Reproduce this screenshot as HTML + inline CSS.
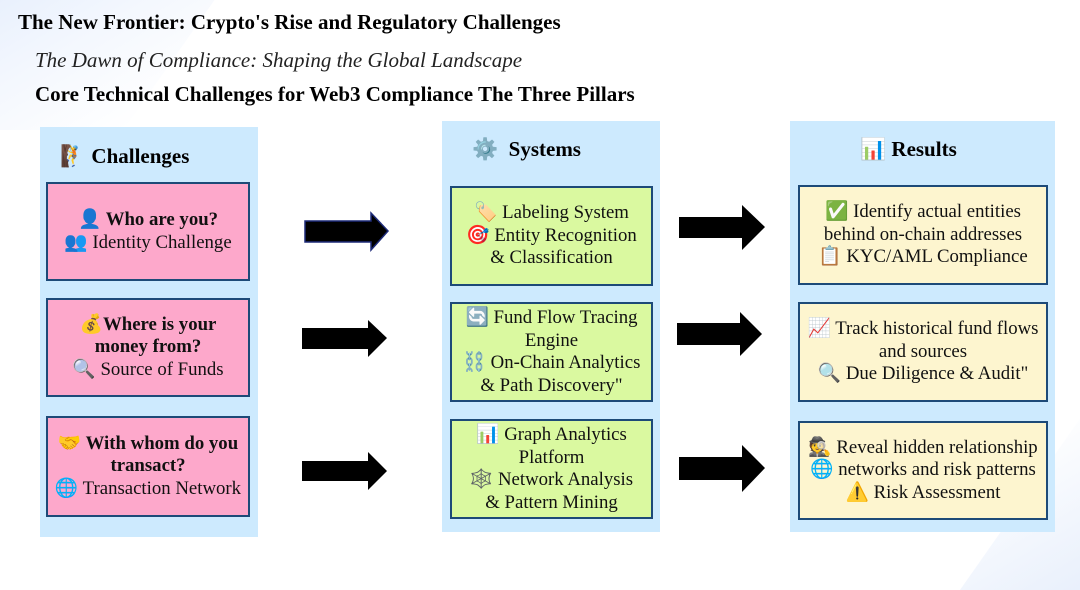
<!DOCTYPE html>
<html><head><meta charset="utf-8"><style>
body{margin:0;width:1080px;height:541px;position:relative;overflow:hidden;background:#fff;font-family:"Liberation Serif","Noto Sans CJK SC",serif;}
.bg1{position:absolute;left:-140px;top:-60px;width:330px;height:190px;background:linear-gradient(135deg,#dce8fb,#f3f7fe 60%,rgba(255,255,255,0));transform:skewX(-35deg);}
.bg2{position:absolute;left:1030px;top:390px;width:200px;height:200px;background:linear-gradient(135deg,rgba(255,255,255,0),#e3ecfb);transform:skewX(-35deg);}
.t{position:absolute;white-space:nowrap;color:#000}
.panel{position:absolute;background:#cdeafe}
.box{position:absolute;border:2px solid #1d4a78;box-sizing:border-box;display:flex;align-items:center;justify-content:center;text-align:center;font-size:18.8px;line-height:22.5px;color:#111;white-space:nowrap}
.pink{background:#fda8cb}.green{background:#daf9a0}.yellow{background:#fdf5cf}
.h{position:absolute;font-weight:bold;font-size:21px;white-space:nowrap}
svg{position:absolute}
</style></head><body>
<div class="bg1"></div><div class="bg2"></div>
<div class="t" style="left:18px;top:10px;font-size:21px;font-weight:bold">The New Frontier: Crypto's Rise and Regulatory Challenges</div>
<div class="t" style="left:35px;top:48px;font-size:21px;font-style:italic;color:#222">The Dawn of Compliance: Shaping the Global Landscape</div>
<div class="t" style="left:35px;top:82px;font-size:21px;font-weight:bold">Core Technical Challenges for Web3 Compliance The Three Pillars</div>

<div class="panel" style="left:40px;top:127px;width:218px;height:410px"></div>
<div class="h" style="left:60px;top:144px">🧗 Challenges</div>
<div class="box pink" style="left:46px;top:182px;width:204px;height:99px"><div><b>👤 Who are you?</b><br>👥 Identity Challenge</div></div>
<div class="box pink" style="left:46px;top:298px;width:204px;height:99px"><div><b>💰Where is your<br>money from?</b><br>🔍 Source of Funds</div></div>
<div class="box pink" style="left:46px;top:416px;width:204px;height:101px"><div><b>🤝 With whom do you<br>transact?</b><br>🌐 Transaction Network</div></div>

<div class="panel" style="left:442px;top:121px;width:218px;height:411px"></div>
<div class="h" style="left:472px;top:137px">⚙️&nbsp; Systems</div>
<div class="box green" style="left:450px;top:186px;width:203px;height:100px"><div>🏷️ Labeling System<br>🎯 Entity Recognition<br>&amp; Classification</div></div>
<div class="box green" style="left:450px;top:302px;width:203px;height:100px"><div>🔄 Fund Flow Tracing<br>Engine<br>⛓️ On-Chain Analytics<br>&amp; Path Discovery"</div></div>
<div class="box green" style="left:450px;top:419px;width:203px;height:100px"><div>📊 Graph Analytics<br>Platform<br>🕸️ Network Analysis<br>&amp; Pattern Mining</div></div>

<div class="panel" style="left:790px;top:121px;width:265px;height:411px"></div>
<div class="h" style="left:860px;top:137px">📊 Results</div>
<div class="box yellow" style="left:798px;top:185px;width:250px;height:100px"><div>✅ Identify actual entities<br>behind on-chain addresses<br>📋 KYC/AML Compliance</div></div>
<div class="box yellow" style="left:798px;top:302px;width:250px;height:100px"><div>📈 Track historical fund flows<br>and sources<br>🔍 Due Diligence &amp; Audit"</div></div>
<div class="box yellow" style="left:798px;top:421px;width:250px;height:99px"><div>🕵️ Reveal hidden relationship<br>🌐 networks and risk patterns<br>⚠️ Risk Assessment</div></div>

<svg width="1080" height="541" style="left:0;top:0">
<g fill="#000">
<polygon points="305,221 371,221 371,213 388,231 371,250 371,242 305,242" stroke="#1d2a78" stroke-width="1.5"/>
<polygon points="302,328 368,328 368,320 387,338 368,357 368,349 302,349"/>
<polygon points="302,461 368,461 368,452 387,471 368,490 368,481 302,481"/>
<polygon points="679,217 742,217 742,205 765,227 742,250 742,238 679,238"/>
<polygon points="677,323 740,323 740,312 762,334 740,356 740,345 677,345"/>
<polygon points="679,457 742,457 742,445 765,468 742,492 742,480 679,480"/>
</g></svg>
</body></html>
